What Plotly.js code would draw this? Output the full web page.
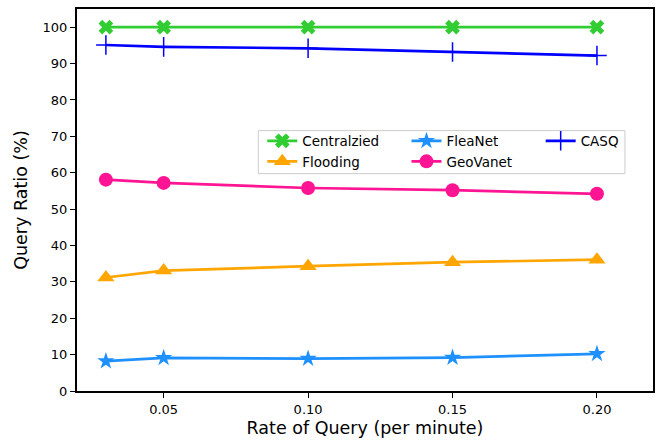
<!DOCTYPE html>
<html>
<head>
<meta charset="utf-8">
<script src="https://cdn.plot.ly/plotly-3.0.1.min.js"></script>
<style>body{margin:0;padding:0;background:#fff}#chart{width:657px;height:443px}</style>
</head>
<body>
<div id="chart"></div>
<script>
const rates = [0.03, 0.05, 0.10, 0.15, 0.20];
const centralized = [100, 100, 100, 100, 100];
const flooding = [31.2, 33.1, 34.3, 35.4, 36.1];
const fleanet = [8.2, 9.1, 8.9, 9.2, 10.2];
const geovanet = [58.1, 57.2, 55.8, 55.2, 54.2];
const casq = [95.1, 94.6, 94.2, 93.2, 92.2];
const xTickVals = [0.05, 0.10, 0.15, 0.20];
const xTickText = ['0.05', '0.10', '0.15', '0.20'];
const yTickVals = [0, 10, 20, 30, 40, 50, 60, 70, 80, 90, 100];

function tr(name, y, color, symbol, size, legend, extra) {
  const t = {
    x: rates, y: y, name: name, type: 'scatter', mode: 'lines+markers',
    legend: legend,
    line: {color: color, width: 2.7},
    marker: {color: color, symbol: symbol, size: size, line: {width: 0, color: color}}
  };
  if (extra) Object.assign(t.marker, extra);
  return t;
}

const data = [
  tr('Centralzied', centralized, '#32CD32', 'x', 13, 'legend'),
  tr('Flooding', flooding, '#FFA500', 'triangle-up', 15, 'legend'),
  tr('FleaNet', fleanet, '#1E90FF', 'star', 13, 'legend2'),
  tr('GeoVanet', geovanet, '#FF1493', 'circle', 14, 'legend2'),
  tr('CASQ', casq, '#0000FF', 'cross-thin', 14, 'legend3', {line: {width: 1.5, color: '#0000FF'}})
];

const font = 'DejaVu Sans, sans-serif';
function leg(x) {
  return {
    x: x, y: 0.695, xanchor: 'left', yanchor: 'top', orientation: 'v',
    bgcolor: 'rgba(0,0,0,0)', borderwidth: 0, itemwidth: 30,
    font: {family: font, size: 13.5, color: '#000'}, tracegroupgap: 0
  };
}
const layout = {
  width: 657, height: 443,
  margin: {l: 77, r: 4, t: 9, b: 52},
  paper_bgcolor: '#fff', plot_bgcolor: '#fff',
  font: {family: font, size: 13, color: '#000'},
  showlegend: true,
  legend: leg(0.3217),
  legend2: leg(0.572),
  legend3: leg(0.805),
  shapes: [{
    type: 'rect', xref: 'paper', yref: 'paper',
    x0: 0.3148, x1: 0.9513, y0: 0.569, y1: 0.6817,
    line: {color: '#cccccc', width: 1}, fillcolor: '#ffffff', layer: 'below'
  }],
  xaxis: {
    range: [0.02, 0.2194],
    tickvals: xTickVals, ticktext: xTickText,
    ticks: 'outside', ticklen: 5, tickwidth: 1, tickcolor: '#000',
    showline: true, linecolor: '#000', linewidth: 2, mirror: true,
    showgrid: false, zeroline: false, automargin: false,
    tickfont: {family: font, size: 13},
    title: {text: 'Rate of Query (per minute)', font: {family: font, size: 17.5}, standoff: 6}
  },
  yaxis: {
    range: [0, 105],
    tickvals: yTickVals,
    ticks: 'outside', ticklen: 5, tickwidth: 1, tickcolor: '#000',
    showline: true, linecolor: '#000', linewidth: 2, mirror: true,
    showgrid: false, zeroline: false, automargin: false,
    tickfont: {family: font, size: 13},
    title: {text: 'Query Ratio (%)', font: {family: font, size: 17.5}, standoff: 10}
  }
};

Plotly.newPlot('chart', data, layout, {displayModeBar: false, staticPlot: true});
</script>
</body>
</html>
